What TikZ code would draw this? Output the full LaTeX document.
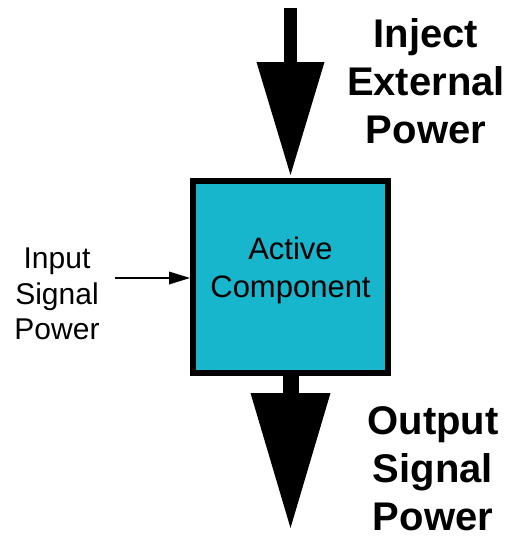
\documentclass[tikz,border=0pt]{standalone}
\usepackage{fontspec}
\setmainfont{Liberation Sans}
\usetikzlibrary{arrows.meta, positioning}
\definecolor{compcyan}{RGB}{24,182,204}

\begin{document}
\begin{tikzpicture}[
    x=1pt, y=-1pt,
    >=Stealth,
    block/.style={draw, line width=6pt, fill=compcyan,
        minimum width=195pt, minimum height=192pt, inner sep=0pt},
    power in/.style={line width=13.5pt,
        -{Triangle[length=113pt, width=68pt, line width=0pt]}},
    power out/.style={line width=16pt,
        -{Triangle[length=135pt, width=80pt, line width=0pt]}},
    signal arrow/.style={line width=2.5pt,
        -{Triangle[length=21pt, width=13pt, line width=0pt]}},
    box text/.style={align=center, font=\fontsize{31}{38}\selectfont},
    small text/.style={align=center, font=\fontsize{30}{35.5}\selectfont},
    big text/.style={align=center, font=\fontsize{40}{48}\selectfont\bfseries}
]
\useasboundingbox (0,0) rectangle (513,538);

% Active component block
\node[block] (comp) at (290.5,277) {};
\node[box text] (comp-txt) at (290.5,270) {Active\\Component};

% Injected power from the top
\coordinate (inject) at ([yshift=170pt]comp.north);
\draw[power in] (inject) -- ([yshift=3pt]comp.north);
\node[big text] (inject-txt) at (426,81) {Inject\\External\\Power};

% Input signal from the left
\coordinate (signal) at (115,278);
\draw[signal arrow] (signal) -- (signal -| comp.west);
\node[small text] (input-txt) at (57,294) {Input\\Signal\\Power};

% Output signal at the bottom
\coordinate (output) at ([yshift=-152pt]comp.south);
\draw[power out] (comp.south) -- (output);
\node[big text] (output-txt) at (433,468.6) {Output\\Signal\\Power};

\end{tikzpicture}
\end{document}
